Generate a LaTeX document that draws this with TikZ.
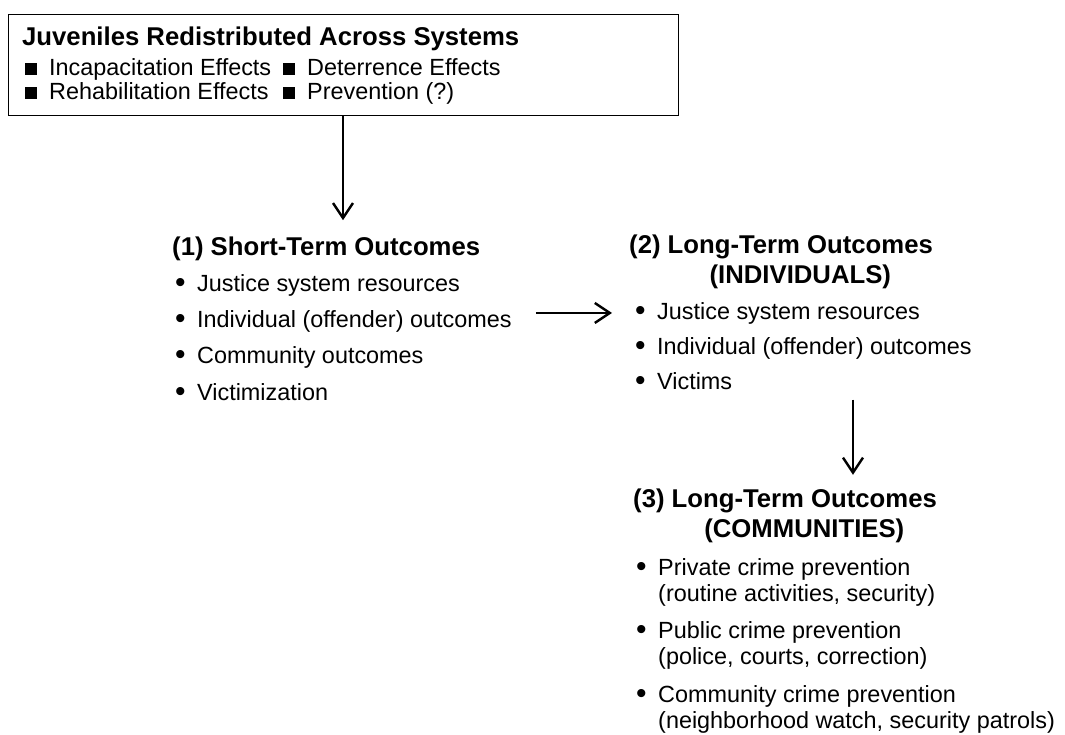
\documentclass[tikz,border=0pt]{standalone}
\usepackage{fontspec}
\setmainfont{Liberation Sans}
\usetikzlibrary{arrows.meta}

\newcommand{\sqbul}{\rule[0.5pt]{12pt}{11.5pt}\hspace{12pt}}
\newcommand{\dotbul}{\makebox[22pt][l]{\raisebox{-1.5pt}{\fontsize{30}{30}\selectfont\textbullet}}}

\tikzset{
  framebox/.style={draw, line width=1.4pt, inner sep=0pt},
  head/.style={font=\fontsize{25.7}{30}\selectfont\bfseries, inner sep=0pt, anchor=base west},
  entry/.style={font=\fontsize{23.4}{26}\selectfont, inner sep=0pt, anchor=base west, align=left},
  flow/.style={-{Straight Barb[length=15pt,width=20pt]}, line width=2.4pt},
}

\begin{document}
\begin{tikzpicture}[x=1pt, y=-1pt]
  \useasboundingbox (0,0) rectangle (1065,734);

  % Input box
  \node[framebox, anchor=north west, minimum width=670pt, minimum height=101pt] (effects) at (8,14) {};
  \node[head] (title) at (22,45) {Juveniles Redistributed Across Systems};
  \node[entry] (incap) at (25,75) {\sqbul Incapacitation Effects};
  \node[entry] (deter) at (283,75) {\sqbul Deterrence Effects};
  \node[entry] (rehab) at (25,99) {\sqbul Rehabilitation Effects};
  \node[entry] (prev) at (283,99) {\sqbul Prevention (?)};

  % (1) Short-term outcomes
  \node[head] (short) at (172,255) {(1) Short-Term Outcomes};
  \node[entry] (shortres) at (175,291) {\dotbul Justice system resources};
  \node[entry] (shortind) at (175,327) {\dotbul Individual (offender) outcomes};
  \node[entry] (shortcom) at (175,363) {\dotbul Community outcomes};
  \node[entry] (shortvic) at (175,400) {\dotbul Victimization};

  % (2) Long-term outcomes, individuals
  \node[head] (indiv) at (629,253) {(2) \begin{tabular}[t]{@{}c@{}}Long-Term Outcomes\\(INDIVIDUALS)\end{tabular}};
  \node[entry] (indres) at (635,319) {\dotbul Justice system resources};
  \node[entry] (indind) at (635,354) {\dotbul Individual (offender) outcomes};
  \node[entry] (indvic) at (635,389) {\dotbul Victims};

  % (3) Long-term outcomes, communities (base = last line)
  \node[head] (comm) at (633,507) {(3) \begin{tabular}[t]{@{}c@{}}Long-Term Outcomes\\(COMMUNITIES)\end{tabular}};
  \node[entry] (commpriv) at (636,601) {\dotbul Private crime prevention\\\hspace*{22pt}(routine activities, security)};
  \node[entry] (commpub) at (636,664) {\dotbul Public crime prevention\\\hspace*{22pt}(police, courts, correction)};
  \node[entry] (commcom) at (636,728) {\dotbul Community crime prevention\\\hspace*{22pt}(neighborhood watch, security patrols)};

  % Connectors
  \coordinate (dropone) at (343,0);
  \coordinate (droptwo) at (853,0);
  \draw[flow, shorten >=16pt] (effects.south -| dropone) -- (short.north -| dropone);
  \draw[flow, shorten <=24pt, shorten >=23pt] (shortind.east |- indres.west) -- (indres.west);
  \draw[flow, shorten <=9pt, shorten >=11pt] (indvic.south -| droptwo) -- (comm.north -| droptwo);
\end{tikzpicture}
\end{document}
